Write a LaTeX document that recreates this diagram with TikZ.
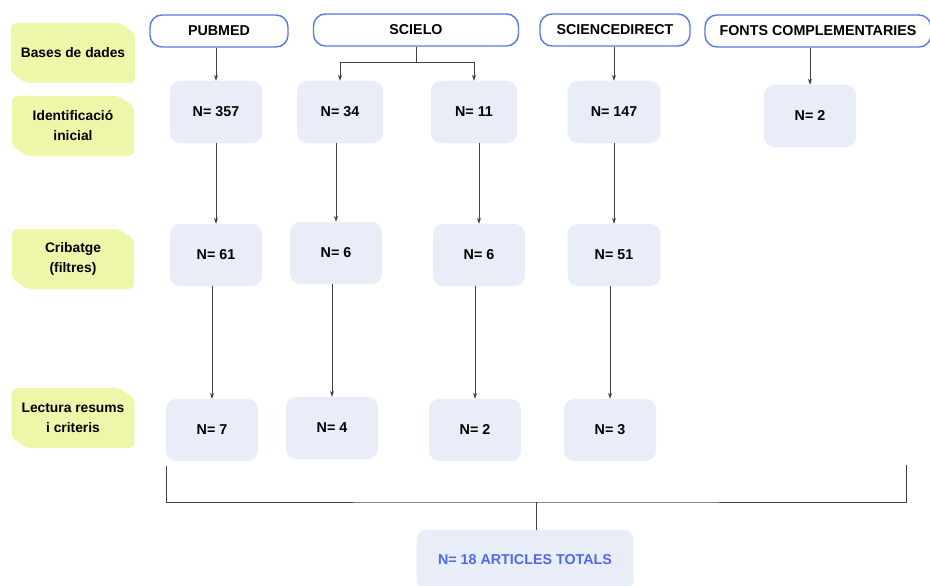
\documentclass[tikz,border=0pt]{standalone}
\usepackage{fontspec}
\setmainfont{Liberation Sans}
\usetikzlibrary{shapes.misc,arrows.meta}

\definecolor{verdfase}{HTML}{EEF6AA}
\definecolor{griscaixa}{HTML}{E9EDF7}
\definecolor{blauvora}{HTML}{5A78E8}
\definecolor{blautext}{HTML}{4E6AE6}

\tikzset{
  fase/.style={chamfered rectangle, chamfered rectangle corners={north east,south west},
    chamfered rectangle xsep=10pt, chamfered rectangle angle=55, fill=verdfase, rounded corners=5pt,
    minimum width=122pt, minimum height=60pt, inner xsep=0pt, inner ysep=2pt, align=center,
    font=\bfseries\fontsize{13.8}{20}\selectfont},
  base/.style={draw=blauvora, line width=1.4pt, fill=white, rounded corners=12pt,
    minimum height=32pt, font=\bfseries\fontsize{14.3}{16}\selectfont},
  caixa/.style={fill=griscaixa, rounded corners=10pt, minimum width=92pt,
    minimum height=62pt, font=\bfseries\fontsize{14.3}{16}\selectfont},
  fletxa/.style={-{Stealth[length=6pt,width=4pt]}, line width=0.9pt, draw=black!75},
  claudator/.style={line width=1pt, draw=black!75}
}

\begin{document}
\begin{tikzpicture}[x=1pt,y=-1pt]
    \useasboundingbox (0,0) rectangle (930,586);

    % fases
    \node [fase] (bases) at (73,53) {Bases de dades};
    \node [fase] (ident) at (73,126) {Identificació\\inicial};
    \node [fase] (crib) at (73,259) {Cribatge\\(filtres)};
    \node [fase] (lect) at (73,418) {Lectura resums\\i criteris};

    % bases de dades
    \node [base, minimum width=138pt] (pubmed) at (219,31) {PUBMED};
    \node [base, minimum width=205pt] (scielo) at (416,30) {SCIELO};
    \node [base, minimum width=150pt] (scidir) at (615,30) {SCIENCEDIRECT};
    \node [base, minimum width=226pt] (fonts) at (818,31) {FONTS COMPLEMENTARIES};

    % identificacio
    \node [caixa] (p357) at (216,112) {N= 357};
    \node [caixa, minimum width=86pt] (s34) at (340,112) {N= 34};
    \node [caixa, minimum width=86pt] (s11) at (474,112) {N= 11};
    \node [caixa, minimum width=93pt] (d147) at (614,112) {N= 147};
    \node [caixa] (f2) at (810,116) {N= 2};

    % cribatge
    \node [caixa] (p61) at (216,255) {N= 61};
    \node [caixa] (s6a) at (336,253) {N= 6};
    \node [caixa] (s6b) at (479,255) {N= 6};
    \node [caixa, minimum width=93pt] (d51) at (614,255) {N= 51};

    % lectura
    \node [caixa] (p7) at (212,430) {N= 7};
    \node [caixa] (s4) at (332,428) {N= 4};
    \node [caixa] (s2) at (475,430) {N= 2};
    \node [caixa] (d3) at (610,430) {N= 3};

    \node [caixa, minimum width=217pt, minimum height=60pt, text=blautext] (total) at (525,560) {N= 18 ARTICLES TOTALS};

    % fletxes
    \draw [fletxa] (pubmed.south -| p357) -- (p357);
    \draw [fletxa] (scielo.south) -- ++(0,16) -| (s34);
    \draw [fletxa] (scielo.south) -- ++(0,16) -| (s11);
    \draw [fletxa] (scidir.south -| d147) -- (d147);
    \draw [fletxa] (fonts.south -| f2) -- (f2);

    \draw [fletxa] (p357) -- (p61);
    \draw [fletxa] (s34.south -| s6a) -- (s6a);
    \draw [fletxa] (s11.south -| s6b) -- (s6b);
    \draw [fletxa] (d147) -- (d51);

    \draw [fletxa] (p61.south -| p7) -- (p7);
    \draw [fletxa] (s6a.south -| s4) -- (s4);
    \draw [fletxa] (s6b.south -| s2) -- (s2);
    \draw [fletxa] (d51.south -| d3) -- (d3);

    % claudator final
    \coordinate (esq) at (166,466);
    \coordinate (dre) at (906,465);
    \coordinate (mig) at (536,502);
    \draw [claudator] (esq) |- (mig) -| (dre);
    \draw [claudator] (mig) -- (mig |- total.north);
\end{tikzpicture}
\end{document}
